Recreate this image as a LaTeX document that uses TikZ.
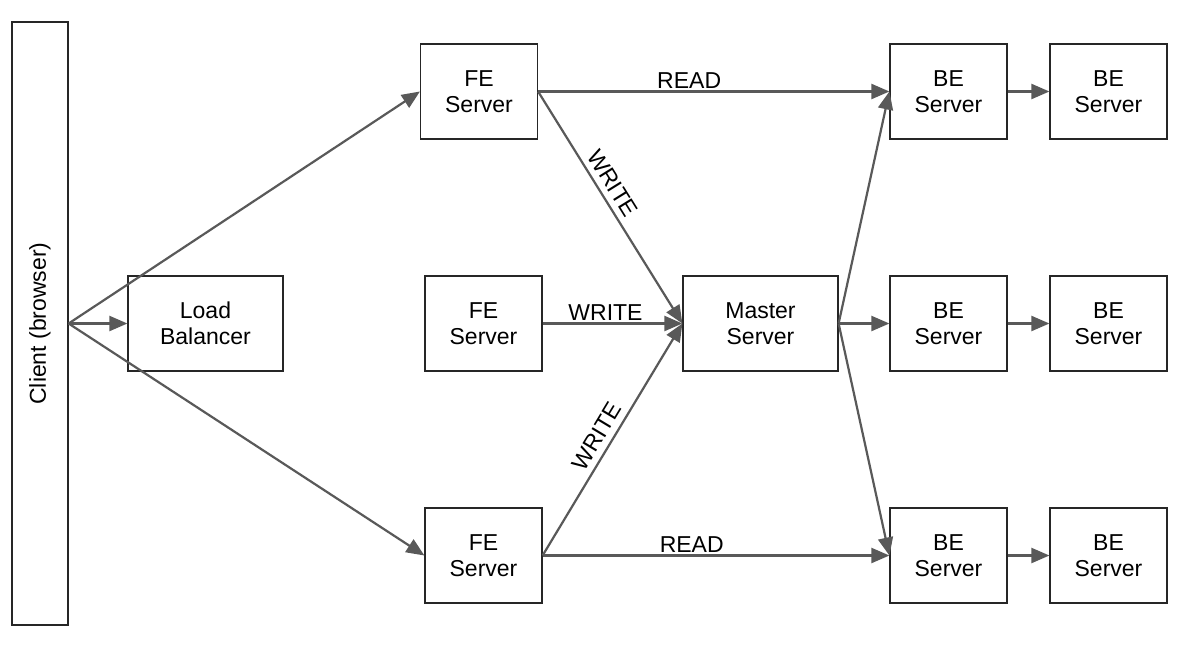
\documentclass[tikz,border=0pt]{standalone}
\usepackage{fontspec}
\setmainfont{Liberation Sans}
\usetikzlibrary{arrows.meta}
\definecolor{edgegray}{HTML}{595959}
\begin{document}
\begin{tikzpicture}[x=1pt,y=-1pt,
  box/.style={draw=black!85, line width=1.2pt, minimum width=117pt, minimum height=95pt,
    inner sep=0pt, align=center, font=\fontsize{23}{26.5}\selectfont},
  conn/.style={draw=edgegray, line width=2.2pt, -{Triangle[length=18pt,width=15pt]}},
  lbl/.style={font=\fontsize{23}{26.5}\selectfont, inner sep=2pt, text=black}]
\useasboundingbox (0,0) rectangle (1183,656);
% nodes
\node[box, minimum width=56pt, minimum height=603pt] (client) at (40,323.5) {};
\node[rotate=90, font=\fontsize{23}{26.5}\selectfont] (clienttext) at (client.center) {Client (browser)};
\node[box, minimum width=155pt] (lb) at (205.5,323.5) {Load\\Balancer};
\node[box] (fe1) at (479,91.5) {FE\\Server};
\node[box] (fe2) at (483.5,323.5) {FE\\Server};
\node[box] (fe3) at (483.5,555.5) {FE\\Server};
\node[box, minimum width=155pt] (ms) at (760.5,323.5) {Master\\Server};
\node[box] (be1) at (948.5,91.5) {BE\\Server};
\node[box] (be2) at (948.5,323.5) {BE\\Server};
\node[box] (be3) at (948.5,555.5) {BE\\Server};
\node[box] (bb1) at (1108.5,91.5) {BE\\Server};
\node[box] (bb2) at (1108.5,323.5) {BE\\Server};
\node[box] (bb3) at (1108.5,555.5) {BE\\Server};
% connectors
\draw[conn] (client.east) -- (lb.west);
\draw[conn] (client.east) -- (fe1.west);
\draw[conn] (client.east) -- (fe3.west);
\draw[conn] (fe1.east) -- node[lbl, above, pos=0.43] {READ} (be1.west);
\draw[conn] (fe1.east) -- node[lbl, sloped, above=4pt, pos=0.43] {WRITE} (ms.west);
\draw[conn] (fe2.east) -- node[lbl, above, pos=0.45] {WRITE} (ms.west);
\draw[conn] (fe3.east) -- node[lbl, sloped, above=4pt, pos=0.48] {WRITE} (ms.west);
\draw[conn] (fe3.east) -- node[lbl, above, pos=0.43] {READ} (be3.west);
\draw[conn] (ms.east) -- (be1.west);
\draw[conn] (ms.east) -- (be2.west);
\draw[conn] (ms.east) -- (be3.west);
\draw[conn] (be1.east) -- (bb1.west);
\draw[conn] (be2.east) -- (bb2.west);
\draw[conn] (be3.east) -- (bb3.west);
\end{tikzpicture}
\end{document}
